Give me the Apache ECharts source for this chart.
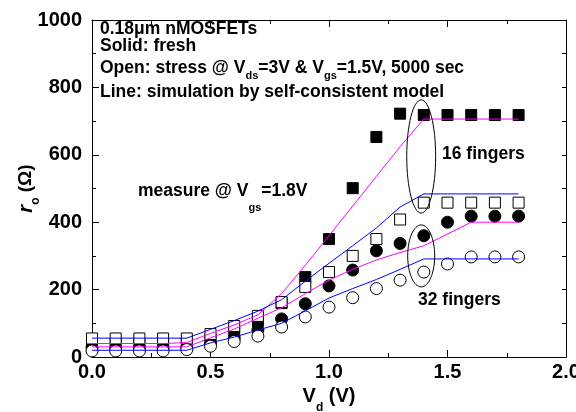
<!DOCTYPE html>
<html>
<head>
<meta charset="utf-8">
<script src="https://cdn.jsdelivr.net/npm/echarts@6/dist/echarts.min.js"></script>
<style>html,body{margin:0;padding:0;background:#fff}#c{width:576px;height:412px}</style>
</head>
<body>
<div id="c"></div>
<script>
// ---- data ----
const vd = [0.0,0.1,0.2,0.3,0.4,0.5,0.6,0.7,0.8,0.9,1.0,1.1,1.2,1.3,1.4,1.5,1.6,1.7,1.8];
const fresh16  = [40,40,40,40,40,53,74,107,160,237,350,501,653,722,718,718,718,718,718];
const stress16 = [55,55,55,55,55,68,92,122,163,208,252,300,350,408,458,458,458,458,458];
const fresh32  = [28,28,28,28,28,42,56,80,113,158,211,258,315,337,360,400,418,418,418];
const stress32 = [18,18,18,18,22,32,46,62,89,119,148,176,203,228,252,276,297,297,297];
const simFresh16  = [40,40,40,40,43,70,95,125,188,272,360,448,536,624,706,706,706,706,706];
const simStress16 = [56,56,56,56,56,82,108,136,170,225,278,330,383,445,484,484,484,484,484];
const simFresh32  = [30,30,30,30,30,57,83,115,146,188,228,260,288,310,330,365,400,400,400];
const simStress32 = [20,20,20,20,20,42,59,80,100,137,175,203,230,260,291,291,291,291,291];
const xTicks = [0, 0.5, 1.0, 1.5, 2.0];
const yTicks = [0, 200, 400, 600, 800, 1000];
// ellipse annotations: [center Vd, center r, half width Vd, half height r]
const ellipse16 = [1.389, 595, 0.061, 168];
const ellipse32 = [1.389, 300, 0.057, 92];

const FONT = '"Liberation Sans", Arial, sans-serif';
const pair = arr => vd.map((v, i) => [v, arr[i]]);

const chart = echarts.init(document.getElementById('c'), null, {renderer: 'canvas'});

function scatter(name, arr, symbol, size, filled) {
  return {
    name, type: 'scatter', data: pair(arr), symbol, symbolSize: size,
    itemStyle: {color: filled ? '#000' : '#fff', borderColor: '#000', borderWidth: 1, opacity: 1},
    emphasis: {disabled: true}, z: 2, animation: false
  };
}
function line(name, arr, color) {
  return {
    name, type: 'line', data: pair(arr), showSymbol: false, symbol: 'none',
    lineStyle: {color, width: 1}, emphasis: {disabled: true}, z: 5, animation: false
  };
}

const tickLab = {color: '#000', fontFamily: FONT, fontWeight: 'bold', fontSize: 20};

chart.setOption({
  animation: false,
  grid: {left: 92, right: 10, top: 20, bottom: 55, containLabel: false, outerBoundsMode: 'none'},
  xAxis: [{
    type: 'value', min: 0, max: 2, interval: 0.5, position: 'bottom',
    axisLine: {show: true, onZero: false, lineStyle: {color: '#000', width: 1}},
    axisTick: {show: true, inside: true, length: 7, lineStyle: {color: '#000'}},
    minorTick: {show: true, splitNumber: 2, length: 4, lineStyle: {color: '#000'}},
    splitLine: {show: false},
    axisLabel: Object.assign({margin: 5, formatter: v => xTicks.includes(v) ? v.toFixed(1) : ''}, tickLab),
    name: '{m|V}{s|d}{m| (V)}', nameLocation: 'middle', nameGap: 19,
    nameTextStyle: {rich: {
      m: {fontFamily: FONT, fontWeight: 'bold', fontSize: 20, color: '#000', lineHeight: 22},
      s: {fontFamily: FONT, fontWeight: 'bold', fontSize: 12, color: '#000', lineHeight: 34, verticalAlign: 'bottom'}
    }}
  }, {
    type: 'value', min: 0, max: 2, interval: 0.5, position: 'top',
    axisLine: {show: true, onZero: false, lineStyle: {color: '#000', width: 1}},
    axisTick: {show: true, inside: true, length: 7, lineStyle: {color: '#000'}},
    minorTick: {show: true, splitNumber: 2, length: 4, lineStyle: {color: '#000'}},
    splitLine: {show: false}, axisLabel: {show: false}
  }],
  yAxis: [{
    type: 'value', min: 0, max: 1000, interval: 200, position: 'left',
    axisLine: {show: true, onZero: false, lineStyle: {color: '#000', width: 1}},
    axisTick: {show: true, inside: true, length: 7, lineStyle: {color: '#000'}},
    minorTick: {show: true, splitNumber: 2, length: 4, lineStyle: {color: '#000'}},
    splitLine: {show: false},
    axisLabel: Object.assign({margin: 10, formatter: v => yTicks.includes(v) ? String(v) : ''}, tickLab),
    name: '{i|r}{s|o}{m| (Ω)}', nameLocation: 'middle', nameGap: 50, nameRotate: 90,
    nameMoveOverlap: false,
    nameTextStyle: {rich: {
      i: {fontFamily: FONT, fontWeight: 'bold', fontStyle: 'italic', fontSize: 20, color: '#000', lineHeight: 22},
      m: {fontFamily: FONT, fontWeight: 'bold', fontSize: 19, color: '#000', lineHeight: 22},
      s: {fontFamily: FONT, fontWeight: 'bold', fontSize: 12, color: '#000', lineHeight: 32, verticalAlign: 'bottom'}
    }}
  }, {
    type: 'value', min: 0, max: 1000, interval: 100, position: 'right',
    axisLine: {show: true, onZero: false, lineStyle: {color: '#000', width: 1}},
    axisTick: {show: true, inside: true, length: 4, lineStyle: {color: '#000'}},
    splitLine: {show: false}, axisLabel: {show: false}
  }],
  series: [
    scatter('16 fingers fresh', fresh16, 'rect', 11, true),
    scatter('32 fingers fresh', fresh32, 'circle', 12, true),
    scatter('16 fingers stress', stress16, 'rect', 11, false),
    scatter('32 fingers stress', stress32, 'circle', 12, false),
    line('sim 16 fresh', simFresh16, '#ff00ff'),
    line('sim 16 stress', simStress16, '#0000ff'),
    line('sim 32 fresh', simFresh32, '#ff00ff'),
    line('sim 32 stress', simStress32, '#0000ff')
  ]
});

function ell(e) {
  const c = chart.convertToPixel({xAxisIndex: 0, yAxisIndex: 0}, [e[0], e[1]]);
  const p = chart.convertToPixel({xAxisIndex: 0, yAxisIndex: 0}, [e[0] + e[2], e[1] + e[3]]);
  return {type: 'ellipse', shape: {cx: c[0], cy: c[1], rx: Math.abs(p[0] - c[0]), ry: Math.abs(p[1] - c[1])},
    style: {fill: 'none', stroke: '#000', lineWidth: 1}, z: 10, silent: true};
}
const FS = 17.5;
const T = (text, x, y, extraRich) => ({
  type: 'text', x, y, z: 10, silent: true,
  style: {
    text, fill: '#000', fontFamily: FONT, fontWeight: 'bold', fontSize: FS,
    textAlign: 'left', textVerticalAlign: 'middle',
    rich: Object.assign({
      m: {fontFamily: FONT, fontWeight: 'bold', fontSize: FS, fill: '#000', lineHeight: 20},
      s: {fontFamily: FONT, fontWeight: 'bold', fontSize: 11, fill: '#000', lineHeight: 26, verticalAlign: 'bottom'}
    }, extraRich || {})
  }
});

chart.setOption({
  graphic: [
    ell(ellipse16), ell(ellipse32),
    T('{m|0.18μm nMOSFETs}', 100, 29),
    T('{m|Solid: fresh}', 100, 46),
    T('{m|Open: stress @ V}{s|ds}{m|=3V & V}{s|gs}{m|=1.5V, 5000 sec}', 100, 68),
    T('{m|Line: simulation by self-consistent model}', 100, 92),
    T('{m|16 fingers}', 442, 154),
    T('{m|32 fingers}', 418, 300),
    T('{m|measure @ V}{g|gs}{m|=1.8V}', 138, 191,
      {g: {fontFamily: FONT, fontWeight: 'bold', fontSize: 11, fill: '#000', lineHeight: 44, verticalAlign: 'bottom'}})
  ]
});
</script>
</body>
</html>
